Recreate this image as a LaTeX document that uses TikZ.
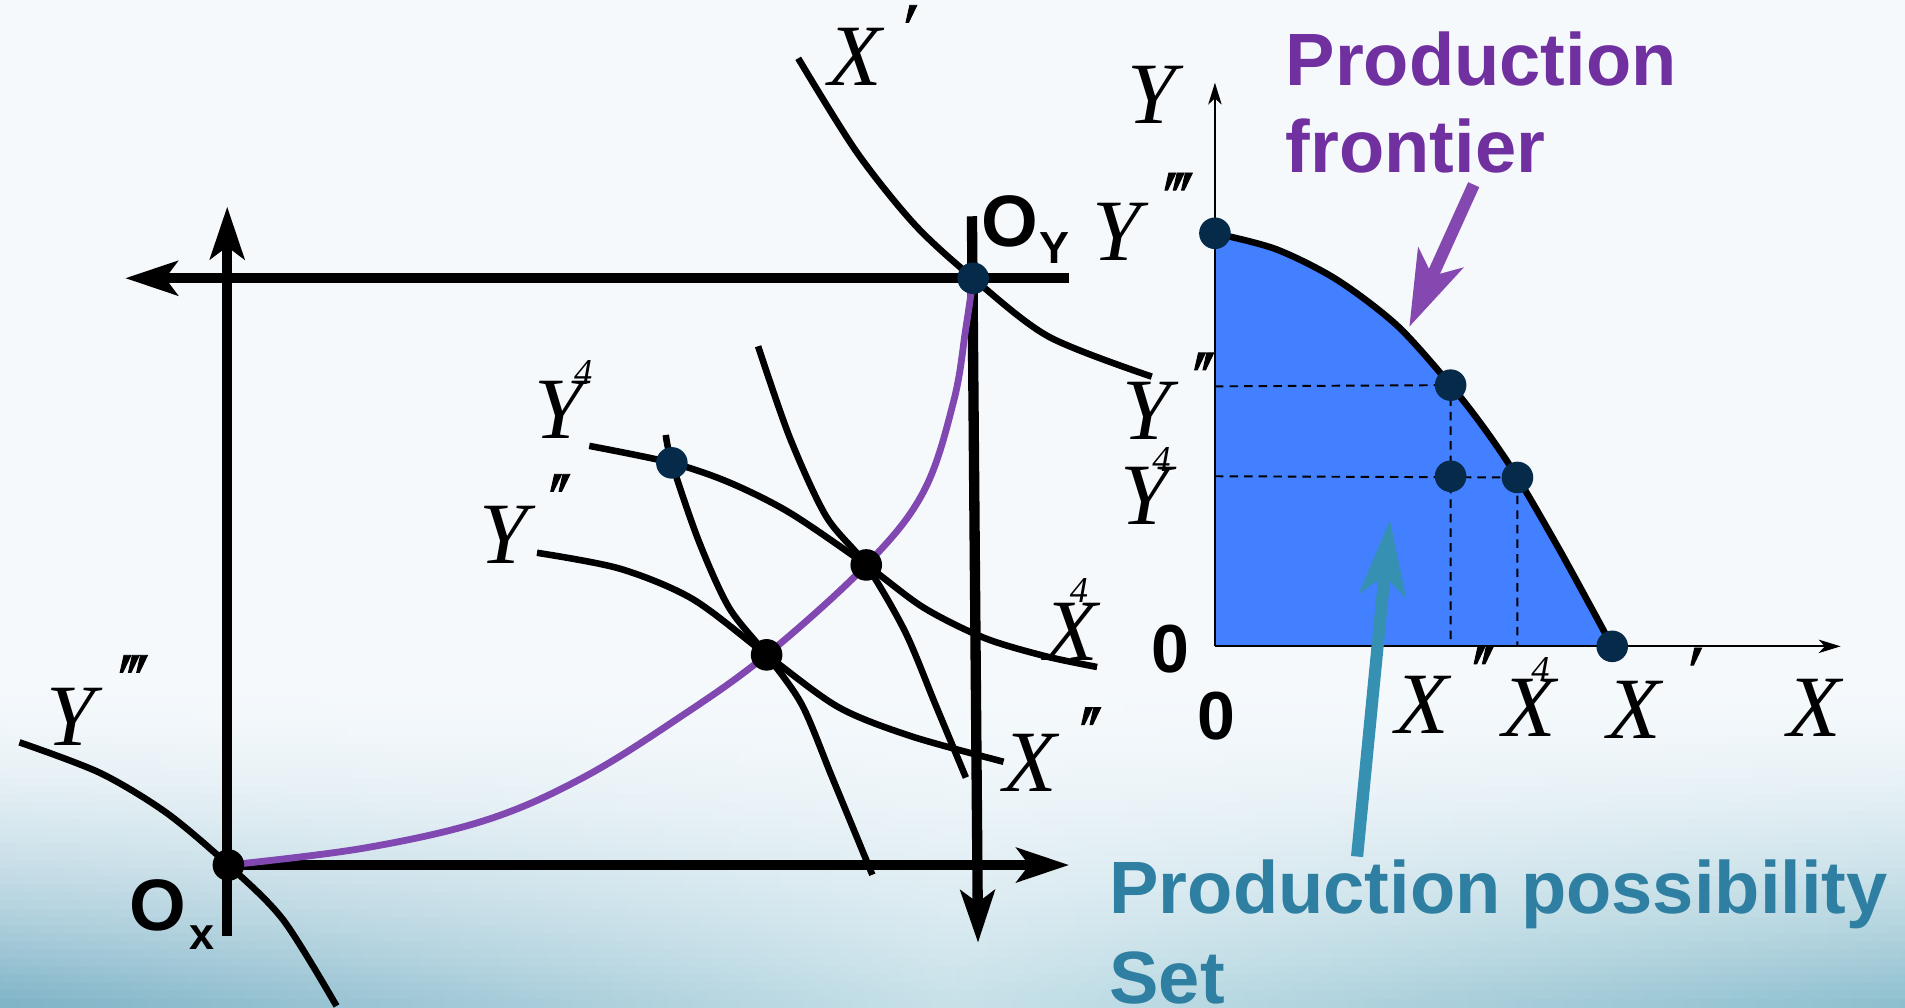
\documentclass[tikz,border=0pt]{standalone}
\usepackage{fontspec}
\setmainfont{Liberation Serif}
\newfontfamily\bsans{Liberation Sans}
\newfontfamily\pf{Liberation Serif}[Ligatures=TeXOff,FakeSlant=0.35,FakeBold=1.2]
\usetikzlibrary{arrows.meta}
\definecolor{bgtop}{HTML}{F5F9FC}
\definecolor{cornerL}{HTML}{7DB2C6}
\definecolor{botmid}{HTML}{C6E0E8}
\definecolor{cornerR}{HTML}{8CBECD}
\definecolor{navy}{HTML}{062A4A}
\definecolor{ppurple}{HTML}{8048B0}
\definecolor{tpurple}{HTML}{7030A0}
\definecolor{apurple}{HTML}{8448B0}
\definecolor{tteal}{HTML}{2E7FA1}
\definecolor{ateal}{HTML}{3590B2}
\definecolor{ppsblue}{HTML}{4280FF}
\begin{document}
\begin{tikzpicture}[x=1pt,y=-1pt,
  bigarr/.style={line width=8.5pt,-{Stealth[length=43pt,width=28pt,inset=10pt]}},
  thinarr/.style={line width=1.8pt,-{Stealth[length=18pt,width=11pt,inset=5pt]}},
  curve/.style={line width=5.4pt,line cap=butt},
  lab/.style={inner sep=0pt,font=\fontsize{72}{72}\selectfont\itshape},
  prm/.style={inner sep=0pt,font=\pf\fontsize{60}{60}\selectfont},
  four/.style={inner sep=0pt,font=\fontsize{30}{30}\selectfont\itshape},
  bigo/.style={inner sep=0pt,font=\bsans\bfseries\fontsize{60}{60}\selectfont},
  subo/.style={inner sep=0pt,font=\bsans\bfseries\fontsize{37}{37}\selectfont},
  zero/.style={inner sep=0pt,font=\bsans\bfseries\fontsize{56}{56}\selectfont},
  caption/.style={inner sep=0pt,anchor=base west,font=\bsans\bfseries\fontsize{61}{61}\selectfont},
  bdot/.style={circle,fill=black,inner sep=0pt,minimum size=26pt},
  ndot/.style={circle,fill=navy,inner sep=0pt,minimum size=26pt},
  dashln/.style={line width=1.6pt,dash pattern=on 7pt off 5pt}
]
% background
\fill[bgtop] (0,0) rectangle (1568,829);
\foreach \i in {0,...,39}{
  \pgfmathsetmacro\ya{560+\i*269/40}
  \pgfmathsetmacro\yb{560+(\i+1)*269/40+0.6}
  \pgfmathsetmacro\p{100*((\i+0.5)/40)^1.7}
  \shade[left color=cornerL!\p!bgtop,right color=cornerR!\p!bgtop,middle color=botmid!\p!bgtop] (0,\ya) rectangle (1568,\yb);
}
\useasboundingbox (0,0) rectangle (1568,829);

% key points
\coordinate (Ox) at (188,712);
\coordinate (Oy) at (801,229);
\coordinate (A) at (553,381);
\coordinate (B) at (713,465);
\coordinate (C) at (631,539);

% box axes
\draw[bigarr] (187,770) -- (187,170);
\draw[bigarr] (880,229) -- (103,229);
\draw[bigarr] (187,712) -- (880,712);
\draw[bigarr] (800,178) -- (805,776);

% contract curve
\draw[ppurple,line width=5.6pt] plot[smooth,tension=0.6] coordinates {(Ox) (300,698) (400,675) (480,640) (560,590) (C) (B) (760,405) (785,330) (795,270) (Oy)};

% isoquants
\draw[curve] plot[smooth] coordinates {(16,611) (82,636) (137,669) (Ox) (233,757) (277,828)};
\draw[curve] plot[smooth] coordinates {(657,48) (705,125) (753,185) (Oy) (863,277) (948,310)};
\draw[curve] plot[smooth] coordinates {(485,367) (A) (600,397) (650,422) (B) (760,500) (810,525) (860,540) (903,549)};
\draw[curve] plot[smooth] coordinates {(442,455) (510,468) (570,493) (C) (690,582) (750,606) (826,627)};
\draw[curve] plot[smooth] coordinates {(548,358) (A) (575,445) (600,500) (C) (660,580) (685,640) (718,720)};
\draw[curve] plot[smooth] coordinates {(624,285) (650,360) (680,425) (B) (745,520) (770,580) (795,640)};

% dots
\node[bdot] (dOx) at (Ox) {};
\node[ndot] (dOy) at (Oy) {};
\node[ndot] (dA) at (A) {};
\node[bdot] (dB) at (B) {};
\node[bdot] (dC) at (C) {};

% left labels
\node[lab] (lYiii) at (58,590) {Y};
\node[prm] (pYiii) at (98,559) {'\kern-4pt'\kern-4pt'};
\node[bigo] (lOx) at (130,745) {O};
\node[subo] (lOxs) at (166,772) {x};
\node[bigo] (lOy) at (831,182) {O};
\node[subo] (lOys) at (868,204) {Y};
\node[lab] (lXi) at (704,47) {X};
\node[prm] (pXi) at (738,24) {'};
\node[lab] (lY4) at (460,337) {Y};
\node[four] (fY4) at (480,307) {4};
\node[lab] (lYii) at (415,440) {Y};
\node[prm] (pYii) at (449,410) {'\kern-4pt'};
\node[lab] (lX4) at (882,520) {X};
\node[four] (fX4) at (888,486) {4};
\node[lab] (lXii) at (848,628) {X};
\node[prm] (pXii) at (886,602) {'\kern-4pt'};

% right plot
\coordinate (O2) at (1000,532);
\coordinate (F0) at (1000,192);
\coordinate (F1) at (1194,317);
\coordinate (F2) at (1249,393);
\coordinate (F3) at (1327,532);
\coordinate (G) at (1194,392);
\fill[ppsblue] (O2) -- plot[smooth] coordinates {(F0) (1050,205) (1100,230) (1150,268) (F1) (1222,353) (F2) (1285,455) (F3)} -- cycle;
\draw[curve] plot[smooth] coordinates {(F0) (1050,205) (1100,230) (1150,268) (F1) (1222,353) (F2) (1285,455) (F3)};
\draw[thinarr] (O2) -- (1000,68);
\draw[thinarr] (O2) -- (1515,532);
\draw[dashln] (1000,318) -- (F1) -- (1194,532);
\draw[dashln] (1000,392) -- (F2) -- (1249,532);
\node[ndot] (dF0) at (F0) {};
\node[ndot] (dF1) at (F1) {};
\node[ndot] (dG) at (G) {};
\node[ndot] (dF2) at (F2) {};
\node[ndot] (dF3) at (F3) {};

\node[lab] (lY) at (948,78) {Y};
\node[lab] (lX) at (1493,583) {X};
\node[lab] (rXii) at (1171,580) {X};
\node[prm] (rpXii) at (1209,552) {'\kern-4pt'};
\node[lab] (rX4) at (1259,583) {X};
\node[four] (rfX4) at (1268,551) {4};
\node[lab] (rXi) at (1345,584) {X};
\node[prm] (rpXi) at (1384,553) {'};
\node[lab] (rYiii) at (919,191) {Y};
\node[prm] (rpYiii) at (958,162) {'\kern-4pt'\kern-4pt'};
\node[lab] (rYii) at (944,338) {Y};
\node[prm] (rpYii) at (979,310) {'\kern-4pt'};
\node[lab] (rY4) at (942,408) {Y};
\node[four] (rfY4) at (956,378) {4};
\node[zero] (z1) at (963,534) {0};
\node[zero] (z2) at (1001,589) {0};

% captions
\node[caption,text=tpurple] (pf1) at (1058,70) {Production};
\node[caption,text=tpurple] (pf2) at (1058,142) {frontier};
\node[caption,text=tteal] (pp1) at (913,752) {Production possibility};
\node[caption,text=tteal] (pp2) at (913,826) {Set};

\coordinate (pfS) at (1213,152);
\coordinate (pfT) at (1160,269);
\draw[apurple,line width=10pt,-{Stealth[length=62pt,width=40pt,inset=16pt]}] (pfS) -- (pfT);
\coordinate (ppS) at (1117,705);
\coordinate (ppT) at (1144,428);
\draw[ateal,line width=10pt,-{Stealth[length=62pt,width=38pt,inset=16pt]}] (ppS) -- (ppT);
\end{tikzpicture}
\end{document}
